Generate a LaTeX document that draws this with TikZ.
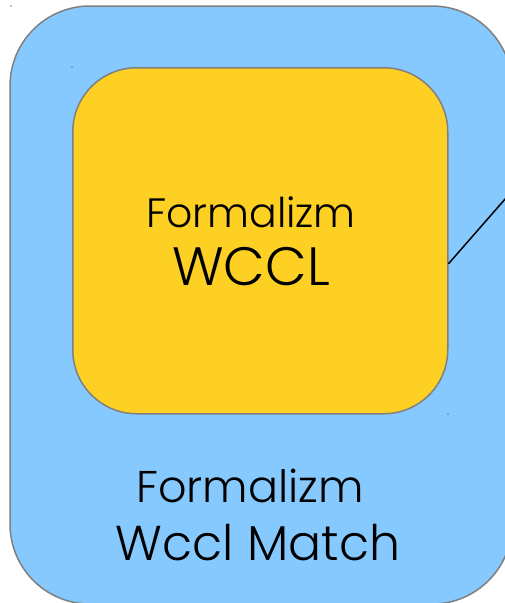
\documentclass[tikz,border=0pt]{standalone}
\usepackage{fontspec}
\IfFontExistsTF{Poppins Light}{\setmainfont{Poppins Light}}{\setmainfont{Poppins}}
\definecolor{outerblue}{RGB}{133,201,255}
\definecolor{inneryellow}{RGB}{253,208,35}
\definecolor{edgegray}{RGB}{128,128,128}
\tikzset{
  panel/.style={draw=edgegray, line width=1.5pt},
  label/.style={anchor=base, inner sep=0pt, text=black},
  speck/.style={fill=edgegray, draw=none},
}
\begin{document}
\begin{tikzpicture}[x=1pt, y=-1pt]
  \useasboundingbox (0,0) rectangle (505,603);
  \clip (0,0) rectangle (505,603);
  % outer container
  \draw[panel, fill=outerblue, rounded corners=80pt] (10,6) rectangle (512,604);
  % inner block
  \node[panel, fill=inneryellow, rounded corners=64pt, minimum width=375pt,
        minimum height=346pt, inner sep=0pt, anchor=north west] (wccl) at (72,67) {};
  % texts
  \node[label, font=\fontsize{41}{41}\selectfont] (t1) at (251,227) {Formalizm};
  \node[label, font=\fontsize{54}{54}\selectfont] (t2) at (251,285) {WCCL};
  \node[label, font=\fontsize{44.5}{44.5}\selectfont] (t3) at (250,502) {Formalizm};
  \node[label, font=\fontsize{49}{49}\selectfont] (t4) at (258,560) {Wccl Match};
  % connector leaving the right edge
  \coordinate (out) at (534,166);
  \draw[line width=1.5pt] (wccl.east) ++(0,23) -- (out);
  % small marks
  \fill[speck] (11,6) circle (0.8);
  \fill[speck] (72,67) circle (0.8);
  \fill[speck] (448,414) circle (0.8);
\end{tikzpicture}
\end{document}
